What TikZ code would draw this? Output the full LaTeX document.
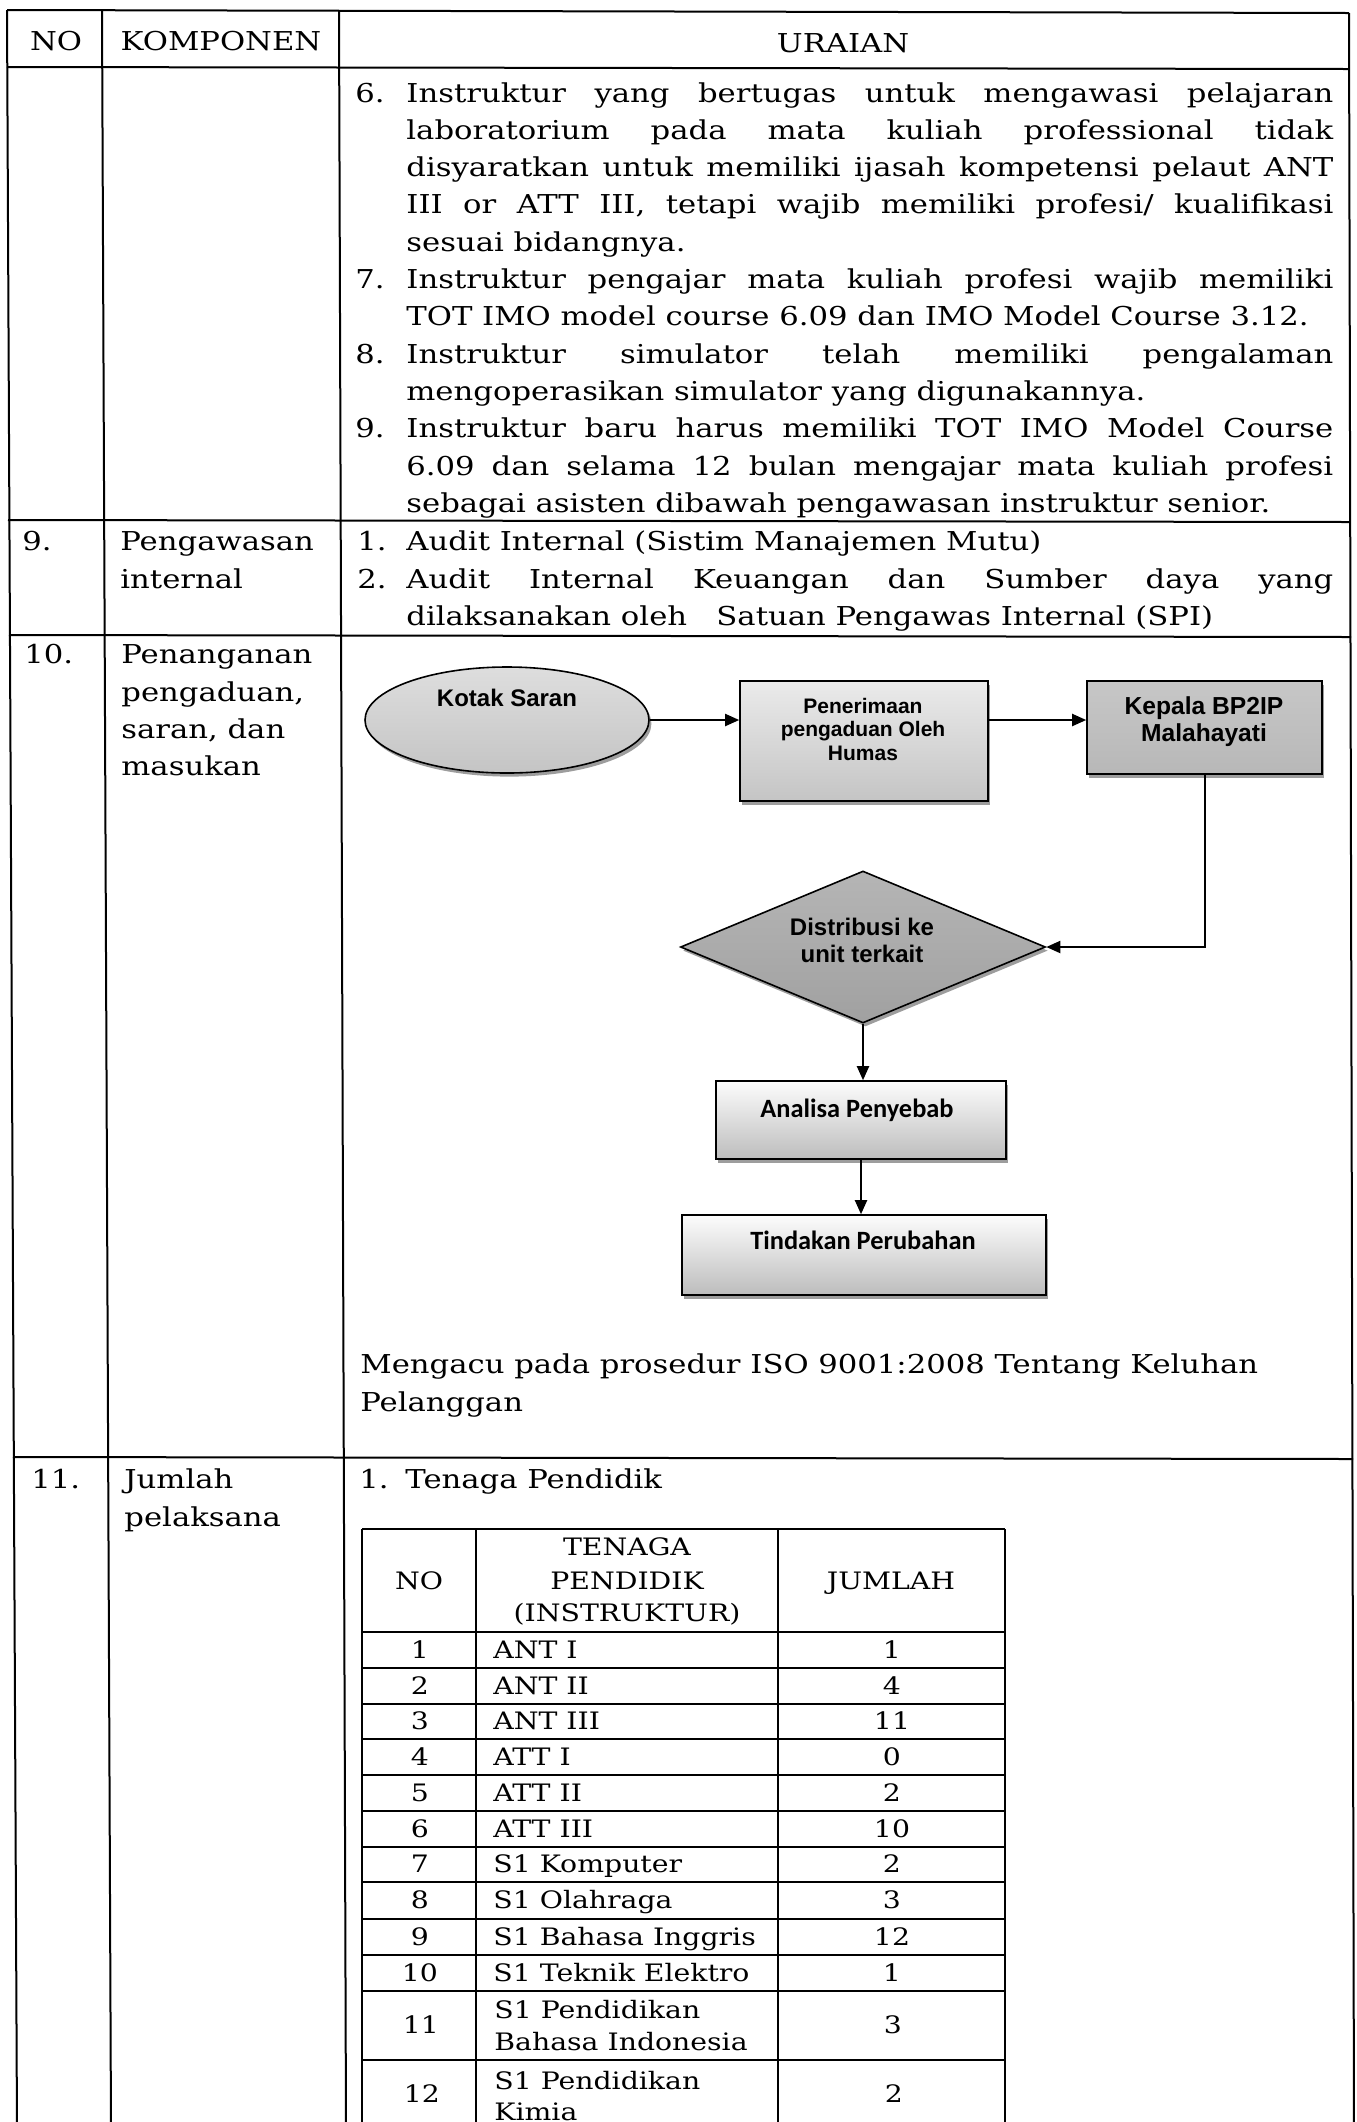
\documentclass[tikz,border=0pt]{standalone}
\usepackage{fontspec}
\setmainfont{DejaVu Serif}[FakeStretch=1.18]
\newfontfamily\flowfont{Liberation Sans}
\newfontfamily\calfont{Carlito}
\usetikzlibrary{shapes.geometric,arrows.meta,shadows}
\newcommand\mainsize{\fontsize{13}{18.5}\selectfont}
\newcommand\tabsize{\fontsize{12}{16}\selectfont}
\newlength\TW \setlength\TW{463.5pt}
\newcommand\JL[1]{\makebox[\TW][s]{#1}}
\tikzset{
 tl/.style={line width=1pt},
 itl/.style={line width=0.9pt},
 txt/.style={anchor=base west, inner sep=0pt, font=\mainsize},
 ctxt/.style={anchor=base, inner sep=0pt, font=\mainsize},
 ttxt/.style={anchor=base west, inner sep=0pt, font=\tabsize},
 tctxt/.style={anchor=base, inner sep=0pt, font=\tabsize},
 arr/.style={line width=1pt, -{Triangle[length=7pt,width=6pt]}},
 shp/.style={draw, line width=0.8pt, inner sep=0pt,
   drop shadow={shadow xshift=1.2pt, shadow yshift=-1.8pt, fill=gray!85, opacity=0.9}},
 flt/.style={inner sep=0pt, align=center},
}
\begin{document}
\begin{tikzpicture}[x=0.5pt,y=-0.5pt]
\useasboundingbox (0,0) rectangle (1356,2122);
\fill[white] (0,0) rectangle (1356,2122);
\clip (0,0) rectangle (1356,2122);

% ---------- outer table ----------
\draw[tl] (7,10) -- (17,2130);
\draw[tl] (102,10) -- (111,2130);
\draw[tl] (339,11) -- (346,2130);
\draw[tl] (1349,13) -- (1354,2130);
\draw[tl] (7,10) -- (1349,13);
\draw[tl] (7,67) -- (1349,69);
\draw[tl] (8,520) -- (1350,522);
\draw[tl] (9,635) -- (1351,637);
\draw[tl] (13,1457) -- (1353,1459);

% header
\node[ctxt] (hno) at (56,50) {NO};
\node[ctxt] (hkomp) at (221,50) {KOMPONEN};
\node[ctxt] (hur) at (843,52) {URAIAN};

% ---------- row 8 (continued) ----------
\node[txt] (n6) at (355,102) {6.};
\node[txt] (l6a) at (406,102) {\JL{Instruktur yang bertugas untuk mengawasi pelajaran}};
\node[txt] (l6b) at (406,139.3) {\JL{laboratorium pada mata kuliah professional tidak}};
\node[txt] (l6c) at (406,176.6) {\JL{disyaratkan untuk memiliki ijasah kompetensi pelaut ANT}};
\node[txt] (l6d) at (406,213.9) {\JL{III or ATT III, tetapi wajib memiliki profesi/ kualifikasi}};
\node[txt] (l6e) at (406,251.2) {sesuai bidangnya.};
\node[txt] (n7) at (355,288.5) {7.};
\node[txt] (l7a) at (406,288.5) {\JL{Instruktur pengajar mata kuliah profesi wajib memiliki}};
\node[txt] (l7b) at (406,325.8) {TOT IMO model course 6.09 dan IMO Model Course 3.12.};
\node[txt] (n8) at (355,363.1) {8.};
\node[txt] (l8a) at (406,363.1) {\JL{Instruktur simulator telah memiliki pengalaman}};
\node[txt] (l8b) at (406,400.4) {mengoperasikan simulator yang digunakannya.};
\node[txt] (n9) at (355,437.7) {9.};
\node[txt] (l9a) at (406,437.7) {\JL{Instruktur baru harus memiliki TOT IMO Model Course}};
\node[txt] (l9b) at (406,475) {\JL{6.09 dan selama 12 bulan mengajar mata kuliah profesi}};
\node[txt] (l9c) at (406,512.3) {sebagai asisten dibawah pengawasan instruktur senior.};

% ---------- row 9 ----------
\node[txt] (r9no) at (22,550) {9.};
\node[txt] (r9ka) at (120,550) {Pengawasan};
\node[txt] (r9kb) at (120,588) {internal};
\node[txt] (r9n1) at (357,550) {1.};
\node[txt] (r9a) at (406,550) {Audit Internal (Sistim Manajemen Mutu)};
\node[txt] (r9n2) at (357,588) {2.};
\node[txt] (r9b) at (406,588) {\JL{Audit Internal Keuangan dan Sumber daya yang}};
\node[txt] (r9c) at (406,625) {dilaksanakan oleh\ \ \ Satuan Pengawas Internal (SPI)};

% ---------- row 10 ----------
\node[txt] (r10no) at (24,663) {10.};
\node[txt] (r10ka) at (121,663) {Penanganan};
\node[txt] (r10kb) at (121,701) {pengaduan,};
\node[txt] (r10kc) at (121,738) {saran, dan};
\node[txt] (r10kd) at (121,775) {masukan};

% flowchart
\node[shp, ellipse, minimum width=142pt, minimum height=53pt,
      top color=gray!26, bottom color=gray!46] (kotak) at (507,720) {};
\node[shp, rectangle, minimum width=124pt, minimum height=60pt,
      top color=gray!16, bottom color=gray!46] (pen) at (864,741) {};
\node[shp, rectangle, minimum width=117.5pt, minimum height=46.5pt,
      top color=gray!44, bottom color=gray!56] (kep) at (1204.5,727.5) {};
\node[shp, diamond, aspect=2.4, minimum width=182.5pt, minimum height=76pt,
      top color=gray!58, bottom color=gray!74] (dist) at (863,947) {};
\node[shp, rectangle, minimum width=145pt, minimum height=39pt,
      top color=gray!2, bottom color=gray!52] (anal) at (861,1120) {};
\node[shp, rectangle, minimum width=182pt, minimum height=40pt,
      top color=gray!2, bottom color=gray!52] (tind) at (864,1255) {};

\node[flt, font=\flowfont\bfseries\fontsize{12}{13.5}\selectfont] (kotakT) at (507,698) {Kotak Saran};
\node[flt, font=\flowfont\bfseries\fontsize{10.5}{11.75}\selectfont] (penT) at (863,729) {Penerimaan\\pengaduan Oleh\\Humas};
\node[flt, font=\flowfont\bfseries\fontsize{12.3}{13.5}\selectfont] (kepT) at (1204,721.5) {Kepala BP2IP\\Malahayati};
\node[flt, font=\flowfont\bfseries\fontsize{12}{13.5}\selectfont] (distT) at (862,940.5) {Distribusi ke\\unit terkait};
\node[flt, font=\calfont\bfseries\fontsize{13.2}{15}\selectfont] (analT) at (857,1110) {Analisa Penyebab};
\node[flt, font=\calfont\bfseries\fontsize{13.2}{15}\selectfont] (tindT) at (863,1240) {Tindakan Perubahan};

\draw[arr] (kotak.east) -- (kotak.east -| pen.west);
\draw[arr] (pen.east |- kotak.east) -- (kep.west |- kotak.east);
\draw[arr] (kep.south) |- (dist.east);
\draw[arr] (dist.south) -- (dist.south |- anal.north);
\draw[arr] (anal.south) -- (anal.south |- tind.north);

\node[txt] (iso1) at (360,1373) {Mengacu pada prosedur ISO 9001:2008 Tentang Keluhan};
\node[txt] (iso2) at (360,1411) {Pelanggan};

% ---------- row 11 ----------
\node[txt] (r11no) at (31,1488) {11.};
\node[txt] (r11ka) at (124,1488) {Jumlah};
\node[txt] (r11kb) at (124,1526) {pelaksana};
\node[txt] (r11n1) at (359,1488) {1.};
\node[txt] (r11a) at (405,1488) {Tenaga Pendidik};

% inner table
\draw[itl] (362,1529) -- (362,2130);
\draw[itl] (476,1529) -- (476,2130);
\draw[itl] (778,1529) -- (778,2130);
\draw[itl] (1005,1529) -- (1005,2130);
\foreach \yy in {1529,1632,1668,1704,1739,1775,1811,1847,1882,1919,1955,1991,2060}
  \draw[itl] (362,\yy) -- (1005,\yy);

\node[tctxt] (thno) at (419,1589) {NO};
\node[tctxt] (tht1) at (627,1555) {TENAGA};
\node[tctxt] (tht2) at (627,1589) {PENDIDIK};
\node[tctxt] (tht3) at (627,1621) {(INSTRUKTUR)};
\node[tctxt] (thj) at (891,1589) {JUMLAH};

\foreach \i/\nm/\jm/\yc in {1/ANT I/1/1650, 2/ANT II/4/1686, 3/ANT III/11/1721.5,
   4/ATT I/0/1757, 5/ATT II/2/1793, 6/ATT III/10/1829, 7/S1 Komputer/2/1864.5,
   8/S1 Olahraga/3/1900.5, 9/S1 Bahasa Inggris/12/1937, 10/S1 Teknik Elektro/1/1973}{
  \node[tctxt] (tno\i) at (420,\yc+8) {\i};
  \node[ttxt] (tnm\i) at (493,\yc+8) {\nm};
  \node[tctxt] (tjm\i) at (892,\yc+8) {\jm};
}
\node[tctxt] (tno11) at (421,2033) {11};
\node[ttxt] (tnm11a) at (494,2018) {S1 Pendidikan};
\node[ttxt] (tnm11b) at (494,2050) {Bahasa Indonesia};
\node[tctxt] (tjm11) at (893,2033) {3};
\node[tctxt] (tno12) at (422,2102) {12};
\node[ttxt] (tnm12a) at (494,2089) {S1 Pendidikan};
\node[ttxt] (tnm12b) at (494,2120) {Kimia};
\node[tctxt] (tjm12) at (894,2102) {2};
\end{tikzpicture}
\end{document}
